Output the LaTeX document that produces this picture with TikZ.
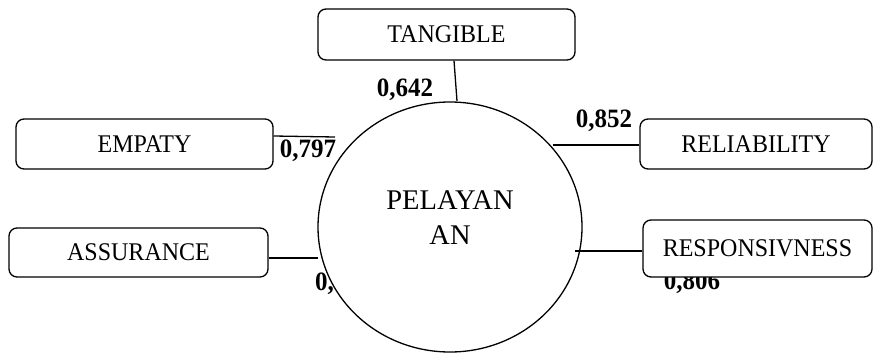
\documentclass[tikz,border=0pt]{standalone}
\usepackage{fontspec}
\setmainfont{Liberation Serif}
\usetikzlibrary{shapes.geometric}
\newcommand{\vtxt}[1]{\scalebox{1}[1.06]{#1}}
\tikzset{
  box/.style={draw, line width=1.3pt, rounded corners=8pt, fill=white, inner sep=0pt,
    font=\fontsize{24}{27}\selectfont},
  lbl/.style={font=\fontsize{25}{28}\selectfont\bfseries, inner sep=0pt},
  link/.style={line width=1.3pt},
}
\begin{document}
\begin{tikzpicture}[x=1pt,y=-1pt]
\useasboundingbox (0,0) rectangle (874,353);
% labels (some partly hidden by shapes drawn later)
\node[lbl] (l642) at (405,90) {\vtxt{0,642}};
\node[lbl] (l797) at (308,151) {\vtxt{0,797}};
\node[lbl] (l852) at (604,121) {\vtxt{0,852}};
\node[lbl] (l806) at (692,283) {\vtxt{0,806}};
\node[lbl, anchor=west] (lass) at (315,284) {\vtxt{0,}};
% central ellipse
\node[ellipse, draw, line width=1.3pt, fill=white, minimum width=264pt, minimum height=250pt, inner sep=0pt] (c) at (450,227) {};
\node[font=\fontsize{28.5}{35}\selectfont, align=center] (ct) at (450,217.5) {PELAYAN\\AN};
% boxes
\node[box, minimum width=257pt, minimum height=51pt] (tan) at (446.5,34.5) {\vtxt{TANGIBLE}};
\node[box, minimum width=257pt, minimum height=50pt] (emp) at (144.5,144) {\vtxt{EMPATY}};
\node[box, minimum width=232pt, minimum height=50pt] (rel) at (756,144) {\vtxt{RELIABILITY}};
\node[box, minimum width=229pt, minimum height=57pt] (res) at (757.5,248.5) {\vtxt{RESPONSIVNESS}};
\node[box, minimum width=259pt, minimum height=49pt] (ass) at (138.5,252.5) {\vtxt{ASSURANCE}};
% connector end points
\coordinate (tanE) at (457,101);
\coordinate (empE) at (335,137);
\coordinate (relE) at (553,145);
\coordinate (resE) at (575,251);
\coordinate (assE) at (318,258);
% connectors
\draw[link] (tan.south -| 454,0) -- (tanE);
\draw[link] (emp.east |- 0,136) -- (empE);
\draw[link] (rel.west |- 0,145) -- (relE);
\draw[link] (res.west |- 0,251) -- (resE);
\draw[link] (ass.east |- 0,258) -- (assE);
\end{tikzpicture}
\end{document}
